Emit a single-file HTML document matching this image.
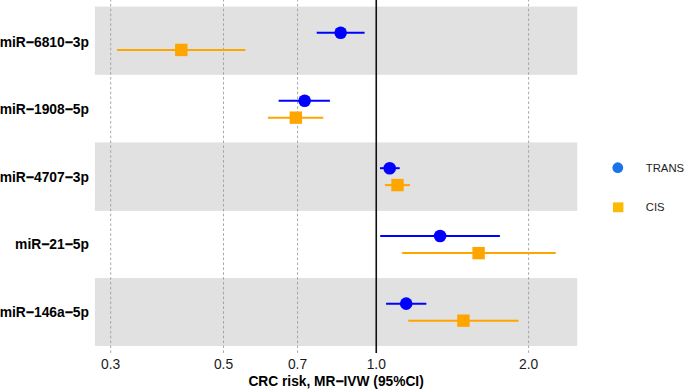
<!DOCTYPE html>
<html><head><meta charset="utf-8"><title>Forest plot</title>
<style>
html,body{margin:0;padding:0;background:#fff;}
svg{display:block;}
text{font-family:"Liberation Sans",sans-serif;}
.b{font-weight:bold;}
</style></head><body>
<svg width="685" height="390" viewBox="0 0 685 390">
<rect width="685" height="390" fill="#ffffff"/>
<rect x="94.85" y="6.60" width="482.45" height="68.15" fill="#e1e1e1"/>
<rect x="94.85" y="142.45" width="482.45" height="68.45" fill="#e1e1e1"/>
<rect x="94.85" y="278.05" width="482.45" height="67.90" fill="#e1e1e1"/>
<line x1="110.70" y1="352.9" x2="110.70" y2="0" stroke="#9a9a9a" stroke-width="0.85" stroke-dasharray="2.6 2.28"/>
<line x1="223.50" y1="352.9" x2="223.50" y2="0" stroke="#9a9a9a" stroke-width="0.85" stroke-dasharray="2.6 2.28"/>
<line x1="297.55" y1="352.9" x2="297.55" y2="0" stroke="#9a9a9a" stroke-width="0.85" stroke-dasharray="2.6 2.28"/>
<line x1="528.60" y1="352.9" x2="528.60" y2="0" stroke="#9a9a9a" stroke-width="0.85" stroke-dasharray="2.6 2.28"/>
<line x1="376.25" y1="0" x2="376.25" y2="352.9" stroke="#111111" stroke-width="1.6"/>
<line x1="316.7" y1="32.80" x2="364.6" y2="32.80" stroke="#0000ff" stroke-width="2"/>
<circle cx="340.65" cy="32.80" r="6.3" fill="#0000ff"/>
<line x1="117.1" y1="49.92" x2="245.5" y2="49.92" stroke="#ffa500" stroke-width="2"/>
<rect x="175.10" y="43.72" width="12.4" height="12.4" fill="#ffa500"/>
<text class="b" x="89" y="47" font-size="13.85" text-anchor="end" fill="#000">miR<tspan stroke="#000" stroke-width="0.35">−</tspan>6810<tspan stroke="#000" stroke-width="0.35">−</tspan>3p</text>
<line x1="278.6" y1="100.70" x2="329.9" y2="100.70" stroke="#0000ff" stroke-width="2"/>
<circle cx="304.65" cy="100.70" r="6.3" fill="#0000ff"/>
<line x1="267.9" y1="117.65" x2="323.3" y2="117.65" stroke="#ffa500" stroke-width="2"/>
<rect x="289.65" y="111.45" width="12.4" height="12.4" fill="#ffa500"/>
<text class="b" x="89" y="114" font-size="13.85" text-anchor="end" fill="#000">miR<tspan stroke="#000" stroke-width="0.35">−</tspan>1908<tspan stroke="#000" stroke-width="0.35">−</tspan>5p</text>
<line x1="380.0" y1="168.20" x2="399.7" y2="168.20" stroke="#0000ff" stroke-width="2"/>
<circle cx="389.7" cy="168.20" r="6.3" fill="#0000ff"/>
<line x1="384.95" y1="185.10" x2="410.0" y2="185.10" stroke="#ffa500" stroke-width="2"/>
<rect x="391.30" y="178.90" width="12.4" height="12.4" fill="#ffa500"/>
<text class="b" x="89" y="182" font-size="13.85" text-anchor="end" fill="#000">miR<tspan stroke="#000" stroke-width="0.35">−</tspan>4707<tspan stroke="#000" stroke-width="0.35">−</tspan>3p</text>
<line x1="380.2" y1="235.95" x2="499.9" y2="235.95" stroke="#0000ff" stroke-width="2"/>
<circle cx="440.1" cy="235.95" r="6.3" fill="#0000ff"/>
<line x1="402.1" y1="253.10" x2="555.7" y2="253.10" stroke="#ffa500" stroke-width="2"/>
<rect x="472.40" y="246.90" width="12.4" height="12.4" fill="#ffa500"/>
<text class="b" x="89" y="249" font-size="13.85" text-anchor="end" fill="#000">miR<tspan stroke="#000" stroke-width="0.35">−</tspan>21<tspan stroke="#000" stroke-width="0.35">−</tspan>5p</text>
<line x1="386.1" y1="303.65" x2="426.35" y2="303.65" stroke="#0000ff" stroke-width="2"/>
<circle cx="406.2" cy="303.65" r="6.3" fill="#0000ff"/>
<line x1="408.2" y1="320.65" x2="518.6" y2="320.65" stroke="#ffa500" stroke-width="2"/>
<rect x="457.20" y="314.45" width="12.4" height="12.4" fill="#ffa500"/>
<text class="b" x="89" y="317" font-size="13.85" text-anchor="end" fill="#000">miR<tspan stroke="#000" stroke-width="0.35">−</tspan>146a<tspan stroke="#000" stroke-width="0.35">−</tspan>5p</text>
<text x="110.70" y="369" font-size="13.85" text-anchor="middle" fill="#1a1a1a">0.3</text>
<text x="223.50" y="369" font-size="13.85" text-anchor="middle" fill="#1a1a1a">0.5</text>
<text x="297.55" y="369" font-size="13.85" text-anchor="middle" fill="#1a1a1a">0.7</text>
<text x="376.25" y="369" font-size="13.85" text-anchor="middle" fill="#1a1a1a">1.0</text>
<text x="528.60" y="369" font-size="13.85" text-anchor="middle" fill="#1a1a1a">2.0</text>
<text class="b" x="336.1" y="386" font-size="13.75" text-anchor="middle" fill="#000">CRC risk, MR<tspan stroke="#000" stroke-width="0.35">−</tspan>IVW (95%CI)</text>
<circle cx="617.8" cy="167.7" r="5.4" fill="#1a73e8"/>
<rect x="613" y="202.4" width="10.4" height="9.8" fill="#fdba02"/>
<text x="645.8" y="172" font-size="11.3" fill="#222">TRANS</text>
<text x="645.8" y="211" font-size="11.3" fill="#222">CIS</text>
</svg>
</body></html>
